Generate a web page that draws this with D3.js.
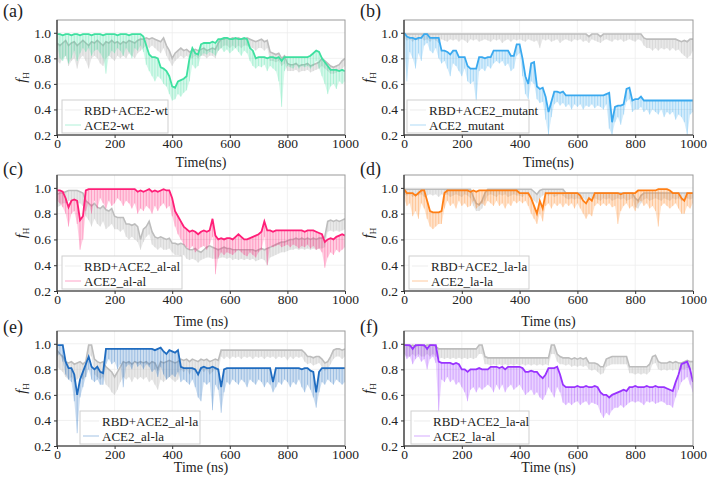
<!DOCTYPE html>
<html><head><meta charset="utf-8">
<script src="https://cdn.jsdelivr.net/npm/d3@7"></script>
<style>
html,body{margin:0;padding:0;background:#fff;}
svg{display:block;}
svg text{font-family:"Liberation Serif","Times New Roman",serif !important;}
</style></head>
<body>
<svg id="chart" width="709" height="486"></svg>
<script>
// time axis (ns), sampled every 10 ns
const timeNs = d3.range(0, 1001, 10);
const xTicks = [0, 200, 400, 600, 800, 1000];
const yTicks = [0.2, 0.4, 0.6, 0.8, 1.0];

// ---- (a) ----
const a_gray = [0.92,0.90,0.92,0.94,0.90,0.92,0.93,0.90,0.92,0.94,0.92,0.90,0.93,0.92,0.94,0.92,0.90,0.93,0.92,0.94,0.92,0.93,0.91,0.93,0.92,0.94,0.93,0.92,0.94,0.95,0.95,0.96,0.95,0.96,0.95,0.94,0.93,0.96,0.90,0.86,0.80,0.84,0.86,0.88,0.86,0.87,0.85,0.86,0.87,0.86,0.87,0.88,0.86,0.87,0.88,0.87,0.92,0.95,0.95,0.96,0.95,0.96,0.95,0.96,0.95,0.95,0.96,0.95,0.94,0.93,0.94,0.95,0.93,0.94,0.85,0.84,0.83,0.84,0.80,0.82,0.76,0.75,0.75,0.76,0.74,0.75,0.75,0.76,0.74,0.75,0.76,0.77,0.80,0.78,0.76,0.74,0.73,0.74,0.75,0.78,0.80];
const a_grayLow = [0.78,0.76,0.80,0.82,0.74,0.78,0.80,0.72,0.80,0.82,0.78,0.72,0.80,0.82,0.80,0.76,0.74,0.80,0.82,0.80,0.78,0.82,0.80,0.82,0.80,0.84,0.82,0.80,0.84,0.86,0.88,0.90,0.88,0.90,0.88,0.86,0.84,0.88,0.82,0.78,0.74,0.78,0.80,0.82,0.80,0.82,0.80,0.80,0.82,0.80,0.82,0.82,0.80,0.82,0.82,0.80,0.86,0.88,0.90,0.90,0.88,0.90,0.88,0.90,0.88,0.90,0.90,0.88,0.88,0.86,0.88,0.88,0.86,0.88,0.78,0.78,0.77,0.78,0.74,0.76,0.70,0.70,0.70,0.71,0.69,0.70,0.70,0.71,0.69,0.70,0.71,0.72,0.74,0.72,0.70,0.68,0.68,0.69,0.70,0.72,0.74];
const a_cmplx = [0.99,0.99,0.98,0.99,0.99,0.98,0.99,0.99,0.98,0.99,0.99,0.99,0.98,0.99,0.99,0.99,0.98,0.99,0.99,0.99,0.99,0.98,0.99,0.99,0.99,0.98,0.99,0.99,0.99,0.99,0.97,0.90,0.83,0.81,0.81,0.80,0.73,0.72,0.70,0.66,0.58,0.57,0.62,0.63,0.64,0.66,0.80,0.88,0.84,0.83,0.91,0.92,0.92,0.92,0.93,0.92,0.95,0.95,0.96,0.96,0.95,0.95,0.96,0.95,0.95,0.96,0.95,0.88,0.86,0.80,0.81,0.81,0.81,0.80,0.81,0.81,0.80,0.81,0.78,0.81,0.81,0.81,0.81,0.81,0.81,0.81,0.81,0.81,0.82,0.84,0.86,0.85,0.80,0.77,0.74,0.71,0.71,0.71,0.70,0.71,0.70];
const a_cmplxLow = [0.90,0.80,0.78,0.82,0.76,0.80,0.86,0.78,0.84,0.88,0.85,0.88,0.82,0.86,0.87,0.84,0.80,0.68,0.82,0.86,0.84,0.88,0.86,0.82,0.88,0.85,0.80,0.88,0.86,0.90,0.85,0.75,0.70,0.66,0.62,0.66,0.64,0.60,0.58,0.52,0.47,0.48,0.52,0.50,0.53,0.55,0.62,0.75,0.72,0.74,0.82,0.84,0.83,0.85,0.84,0.82,0.86,0.88,0.85,0.87,0.84,0.86,0.88,0.85,0.82,0.86,0.84,0.78,0.74,0.72,0.74,0.73,0.75,0.70,0.74,0.72,0.70,0.62,0.42,0.70,0.74,0.73,0.72,0.75,0.72,0.74,0.73,0.74,0.72,0.74,0.78,0.72,0.66,0.60,0.52,0.58,0.60,0.56,0.62,0.60,0.62];

// ---- (b) ----
const b_gray = [0.99,0.99,0.99,0.99,0.99,0.99,0.99,0.99,0.99,0.99,0.99,0.99,0.99,0.99,0.99,0.99,0.99,0.99,0.99,0.99,0.99,0.99,0.99,0.99,0.99,0.99,0.99,0.99,0.99,0.99,0.99,0.99,0.99,0.99,0.99,0.99,0.99,0.99,0.99,0.99,0.99,0.99,0.99,0.99,0.99,0.99,0.99,0.99,0.99,0.99,0.99,0.99,0.99,0.99,0.99,0.99,0.99,0.99,0.99,0.99,0.99,0.99,0.99,0.99,0.97,0.99,0.99,0.99,0.97,0.99,0.99,0.99,0.99,0.99,0.99,0.99,0.99,0.99,0.99,0.99,0.99,0.99,0.99,0.96,0.95,0.95,0.95,0.95,0.95,0.95,0.95,0.95,0.95,0.95,0.95,0.94,0.93,0.94,0.93,0.95,0.95];
const b_grayLow = [0.96,0.94,0.95,0.93,0.95,0.94,0.96,0.94,0.95,0.93,0.95,0.94,0.92,0.95,0.94,0.93,0.95,0.94,0.95,0.93,0.95,0.94,0.92,0.95,0.94,0.95,0.93,0.94,0.95,0.94,0.93,0.95,0.94,0.95,0.92,0.94,0.95,0.93,0.95,0.94,0.95,0.94,0.93,0.95,0.94,0.93,0.94,0.88,0.95,0.94,0.95,0.93,0.94,0.95,0.92,0.94,0.95,0.94,0.93,0.95,0.94,0.95,0.93,0.94,0.92,0.95,0.94,0.93,0.92,0.94,0.95,0.94,0.93,0.95,0.94,0.95,0.93,0.94,0.95,0.94,0.93,0.95,0.94,0.90,0.88,0.88,0.86,0.88,0.86,0.88,0.87,0.88,0.86,0.88,0.86,0.87,0.84,0.82,0.80,0.82,0.86];
const b_cmplx = [1.00,0.97,0.96,0.96,0.95,0.96,0.96,0.99,0.99,0.96,0.96,0.96,0.96,0.86,0.86,0.85,0.83,0.86,0.86,0.81,0.81,0.81,0.74,0.72,0.72,0.72,0.81,0.81,0.80,0.81,0.81,0.86,0.86,0.86,0.86,0.86,0.86,0.82,0.82,0.91,0.91,0.80,0.66,0.60,0.76,0.77,0.58,0.56,0.57,0.50,0.38,0.46,0.54,0.54,0.53,0.54,0.51,0.51,0.51,0.51,0.51,0.51,0.51,0.51,0.51,0.51,0.51,0.51,0.51,0.51,0.52,0.53,0.30,0.42,0.43,0.43,0.44,0.56,0.57,0.47,0.48,0.48,0.50,0.47,0.47,0.47,0.47,0.47,0.47,0.47,0.47,0.47,0.47,0.47,0.47,0.47,0.47,0.47,0.47,0.47,0.47];
const b_cmplxLow = [0.90,0.62,0.85,0.80,0.72,0.84,0.78,0.90,0.92,0.86,0.84,0.88,0.80,0.76,0.78,0.72,0.66,0.76,0.74,0.70,0.66,0.72,0.62,0.60,0.62,0.45,0.70,0.72,0.70,0.74,0.72,0.76,0.78,0.76,0.78,0.74,0.76,0.70,0.72,0.82,0.84,0.66,0.52,0.48,0.62,0.60,0.48,0.45,0.46,0.32,0.20,0.34,0.44,0.46,0.43,0.45,0.42,0.44,0.40,0.44,0.42,0.44,0.40,0.43,0.42,0.44,0.41,0.43,0.42,0.40,0.44,0.25,0.20,0.30,0.34,0.28,0.36,0.46,0.48,0.38,0.40,0.40,0.42,0.38,0.40,0.36,0.40,0.38,0.36,0.40,0.34,0.38,0.36,0.38,0.32,0.36,0.34,0.30,0.20,0.36,0.38];

// ---- (c) ----
const c_gray = [0.95,0.96,0.96,0.97,0.98,0.98,0.98,0.98,0.97,0.96,0.90,0.88,0.86,0.88,0.85,0.84,0.86,0.83,0.82,0.84,0.78,0.77,0.77,0.77,0.72,0.72,0.71,0.72,0.70,0.60,0.68,0.70,0.74,0.66,0.62,0.61,0.62,0.61,0.60,0.61,0.57,0.57,0.56,0.57,0.56,0.53,0.52,0.52,0.53,0.51,0.50,0.52,0.54,0.55,0.54,0.53,0.52,0.53,0.54,0.53,0.53,0.52,0.52,0.52,0.52,0.52,0.52,0.52,0.52,0.51,0.52,0.53,0.52,0.53,0.54,0.55,0.56,0.57,0.58,0.58,0.59,0.60,0.60,0.61,0.60,0.61,0.60,0.61,0.60,0.61,0.60,0.61,0.61,0.62,0.74,0.75,0.74,0.75,0.74,0.75,0.76];
const c_grayLow = [0.85,0.86,0.88,0.88,0.90,0.90,0.90,0.88,0.88,0.86,0.78,0.75,0.70,0.76,0.72,0.70,0.74,0.68,0.70,0.72,0.68,0.68,0.66,0.68,0.62,0.60,0.62,0.60,0.58,0.52,0.58,0.62,0.64,0.56,0.54,0.52,0.54,0.52,0.52,0.53,0.50,0.48,0.48,0.47,0.48,0.45,0.44,0.45,0.44,0.42,0.44,0.45,0.46,0.46,0.45,0.45,0.45,0.46,0.46,0.45,0.46,0.44,0.45,0.44,0.45,0.44,0.45,0.44,0.45,0.43,0.44,0.45,0.44,0.40,0.46,0.47,0.48,0.49,0.50,0.50,0.51,0.52,0.52,0.53,0.52,0.53,0.52,0.53,0.52,0.53,0.52,0.53,0.53,0.54,0.66,0.67,0.66,0.67,0.66,0.67,0.68];
const c_cmplx = [0.98,0.98,0.97,0.92,0.85,0.90,0.91,0.90,0.75,0.78,0.98,0.99,0.99,0.99,0.99,0.99,0.99,0.99,0.99,0.99,0.99,0.99,0.99,0.99,0.99,0.99,0.99,0.99,0.97,0.98,0.97,0.98,0.99,0.97,0.98,0.97,0.98,0.99,0.98,0.98,0.92,0.82,0.78,0.74,0.70,0.68,0.66,0.67,0.66,0.64,0.66,0.67,0.66,0.67,0.76,0.63,0.60,0.61,0.60,0.61,0.61,0.60,0.62,0.64,0.62,0.60,0.60,0.61,0.62,0.63,0.64,0.66,0.74,0.67,0.67,0.66,0.67,0.67,0.67,0.67,0.67,0.67,0.67,0.67,0.67,0.67,0.66,0.67,0.67,0.67,0.66,0.65,0.64,0.58,0.60,0.61,0.60,0.62,0.63,0.64,0.63];
const c_cmplxLow = [0.90,0.88,0.85,0.80,0.70,0.80,0.82,0.72,0.52,0.60,0.82,0.88,0.80,0.90,0.84,0.92,0.88,0.84,0.90,0.86,0.88,0.92,0.90,0.86,0.90,0.88,0.84,0.88,0.80,0.84,0.82,0.86,0.84,0.80,0.86,0.82,0.86,0.88,0.84,0.86,0.78,0.70,0.64,0.60,0.56,0.54,0.52,0.55,0.50,0.52,0.54,0.55,0.52,0.56,0.62,0.33,0.46,0.50,0.48,0.50,0.49,0.48,0.50,0.52,0.50,0.48,0.47,0.50,0.48,0.46,0.50,0.52,0.62,0.40,0.55,0.54,0.55,0.56,0.54,0.55,0.56,0.54,0.56,0.55,0.53,0.55,0.54,0.56,0.53,0.55,0.52,0.53,0.50,0.38,0.46,0.50,0.48,0.52,0.50,0.52,0.54];

// ---- (d) ----
const d_gray = [0.99,0.99,0.99,0.99,0.99,0.99,0.99,0.99,0.99,0.99,0.99,0.99,0.99,0.99,0.99,0.99,0.99,0.99,0.99,0.99,0.99,0.99,0.99,0.99,0.93,0.88,0.87,0.90,0.96,0.99,0.99,0.99,0.99,0.99,0.99,0.99,0.99,0.99,0.99,0.99,0.99,0.99,0.99,0.99,0.99,0.97,0.95,0.98,0.99,0.99,0.99,0.99,0.99,0.99,0.99,0.99,0.96,0.96,0.96,0.96,0.96,0.96,0.96,0.96,0.96,0.96,0.96,0.96,0.96,0.96,0.96,0.96,0.96,0.96,0.96,0.96,0.96,0.96,0.96,0.96,0.92,0.90,0.94,0.96,0.96,0.96,0.96,0.96,0.96,0.96,0.96,0.96,0.96,0.96,0.96,0.96,0.96,0.96,0.96,0.96,0.96];
const d_grayLow = [0.95,0.94,0.95,0.93,0.95,0.94,0.95,0.93,0.94,0.95,0.94,0.95,0.93,0.95,0.94,0.95,0.93,0.94,0.95,0.94,0.93,0.95,0.94,0.92,0.86,0.82,0.82,0.84,0.90,0.94,0.95,0.94,0.93,0.95,0.94,0.95,0.93,0.94,0.95,0.94,0.94,0.93,0.95,0.94,0.92,0.90,0.88,0.92,0.94,0.95,0.94,0.95,0.93,0.94,0.95,0.94,0.92,0.91,0.92,0.91,0.92,0.91,0.92,0.90,0.92,0.91,0.92,0.91,0.90,0.92,0.91,0.92,0.90,0.91,0.92,0.91,0.92,0.90,0.91,0.92,0.85,0.84,0.88,0.91,0.92,0.90,0.91,0.92,0.91,0.90,0.92,0.91,0.90,0.92,0.91,0.92,0.90,0.91,0.92,0.91,0.92];
const d_cmplx = [0.99,0.96,0.96,0.96,0.94,0.96,0.98,0.98,0.90,0.82,0.81,0.81,0.81,0.82,0.96,0.98,0.98,0.98,0.98,0.98,0.98,0.98,0.98,0.97,0.98,0.97,0.98,0.98,0.98,0.98,0.98,0.98,0.98,0.98,0.98,0.98,0.98,0.98,0.98,0.98,0.96,0.96,0.96,0.96,0.92,0.86,0.80,0.90,0.84,0.96,0.96,0.96,0.96,0.96,0.96,0.96,0.96,0.96,0.96,0.96,0.96,0.94,0.90,0.88,0.92,0.90,0.96,0.96,0.96,0.96,0.96,0.96,0.96,0.96,0.96,0.95,0.96,0.96,0.96,0.96,0.96,0.98,0.98,0.98,0.98,0.98,0.98,0.98,0.99,0.99,0.99,0.99,0.98,0.96,0.96,0.96,0.92,0.90,0.96,0.96,0.96];
const d_cmplxLow = [0.92,0.86,0.88,0.78,0.82,0.76,0.88,0.84,0.76,0.70,0.68,0.70,0.72,0.72,0.84,0.90,0.86,0.88,0.84,0.90,0.86,0.88,0.85,0.86,0.90,0.84,0.86,0.88,0.86,0.90,0.88,0.86,0.90,0.86,0.88,0.84,0.88,0.86,0.90,0.88,0.90,0.88,0.90,0.86,0.80,0.76,0.72,0.80,0.74,0.86,0.88,0.84,0.88,0.86,0.88,0.85,0.88,0.86,0.88,0.84,0.88,0.84,0.80,0.76,0.80,0.78,0.86,0.88,0.86,0.88,0.86,0.88,0.85,0.86,0.72,0.82,0.86,0.88,0.84,0.86,0.82,0.88,0.90,0.86,0.88,0.84,0.86,0.82,0.70,0.86,0.88,0.86,0.84,0.86,0.88,0.84,0.80,0.80,0.86,0.84,0.88];

// ---- (e) ----
const e_gray = [0.95,0.92,0.90,0.86,0.85,0.86,0.84,0.85,0.86,0.84,0.86,0.99,0.99,0.88,0.86,0.85,0.86,0.82,0.80,0.78,0.74,0.78,0.82,0.86,0.85,0.86,0.84,0.86,0.85,0.86,0.85,0.86,0.84,0.86,0.85,0.80,0.86,0.85,0.86,0.87,0.86,0.85,0.86,0.88,0.87,0.88,0.86,0.88,0.87,0.86,0.88,0.87,0.88,0.86,0.87,0.88,0.87,0.95,0.95,0.95,0.95,0.95,0.95,0.95,0.95,0.95,0.95,0.95,0.95,0.95,0.95,0.95,0.95,0.95,0.95,0.95,0.95,0.95,0.95,0.95,0.95,0.95,0.95,0.95,0.95,0.95,0.93,0.90,0.90,0.89,0.90,0.90,0.88,0.85,0.86,0.90,0.95,0.96,0.96,0.95,0.96];
const e_grayLow = [0.82,0.80,0.78,0.74,0.72,0.74,0.70,0.72,0.74,0.72,0.74,0.92,0.90,0.76,0.74,0.72,0.74,0.68,0.66,0.62,0.60,0.64,0.70,0.74,0.72,0.74,0.70,0.74,0.72,0.74,0.72,0.74,0.70,0.72,0.68,0.64,0.72,0.70,0.72,0.74,0.72,0.70,0.72,0.80,0.78,0.80,0.76,0.80,0.78,0.76,0.80,0.78,0.80,0.76,0.78,0.80,0.78,0.90,0.88,0.90,0.88,0.90,0.89,0.90,0.88,0.90,0.89,0.90,0.88,0.90,0.89,0.90,0.88,0.90,0.89,0.90,0.88,0.90,0.89,0.90,0.87,0.90,0.88,0.90,0.89,0.90,0.86,0.84,0.85,0.83,0.84,0.85,0.82,0.79,0.80,0.84,0.88,0.90,0.90,0.88,0.90];
const e_cmplx = [0.99,0.99,0.99,0.86,0.81,0.81,0.76,0.60,0.72,0.78,0.84,0.90,0.82,0.80,0.82,0.78,0.77,0.96,0.96,0.96,0.96,0.96,0.96,0.96,0.96,0.96,0.96,0.96,0.96,0.96,0.96,0.96,0.96,0.96,0.95,0.96,0.97,0.94,0.92,0.95,0.94,0.93,0.95,0.82,0.81,0.81,0.81,0.81,0.80,0.76,0.81,0.82,0.81,0.81,0.82,0.81,0.80,0.66,0.80,0.81,0.81,0.81,0.81,0.81,0.81,0.81,0.81,0.81,0.81,0.81,0.81,0.81,0.81,0.81,0.81,0.70,0.81,0.81,0.81,0.81,0.81,0.81,0.81,0.81,0.81,0.80,0.81,0.81,0.79,0.78,0.62,0.78,0.81,0.81,0.81,0.81,0.81,0.81,0.81,0.81,0.81];
const e_cmplxLow = [0.90,0.92,0.86,0.76,0.72,0.70,0.55,0.30,0.58,0.66,0.74,0.80,0.72,0.70,0.72,0.68,0.68,0.84,0.88,0.84,0.86,0.80,0.84,0.66,0.82,0.84,0.80,0.86,0.82,0.84,0.80,0.84,0.82,0.78,0.80,0.74,0.82,0.76,0.72,0.74,0.76,0.74,0.78,0.70,0.72,0.70,0.68,0.72,0.66,0.58,0.55,0.70,0.68,0.70,0.48,0.68,0.64,0.46,0.62,0.70,0.68,0.72,0.70,0.68,0.72,0.70,0.66,0.72,0.70,0.68,0.72,0.70,0.66,0.70,0.68,0.62,0.66,0.70,0.68,0.72,0.70,0.66,0.70,0.68,0.72,0.66,0.62,0.68,0.64,0.58,0.50,0.62,0.70,0.68,0.72,0.70,0.68,0.72,0.70,0.68,0.70];

// ---- (f) ----
const f_gray = [0.99,0.99,0.98,0.99,0.98,0.99,0.99,0.98,0.99,0.99,0.99,0.98,0.96,0.96,0.96,0.96,0.96,0.96,0.96,0.96,0.96,0.96,0.96,0.96,0.96,0.96,0.99,0.99,0.90,0.89,0.89,0.89,0.89,0.89,0.89,0.89,0.89,0.89,0.89,0.89,0.89,0.89,0.89,0.89,0.89,0.89,0.89,0.89,0.89,0.89,0.89,0.99,0.99,0.92,0.90,0.89,0.89,0.89,0.88,0.89,0.88,0.89,0.88,0.89,0.85,0.85,0.85,0.84,0.82,0.82,0.88,0.89,0.90,0.90,0.90,0.90,0.90,0.90,0.82,0.82,0.82,0.82,0.82,0.82,0.82,0.84,0.90,0.91,0.86,0.85,0.85,0.85,0.86,0.85,0.86,0.85,0.85,0.86,0.87,0.86,0.86];
const f_grayLow = [0.92,0.90,0.90,0.92,0.90,0.92,0.90,0.90,0.92,0.90,0.92,0.90,0.88,0.89,0.88,0.89,0.88,0.89,0.88,0.89,0.88,0.89,0.88,0.89,0.88,0.89,0.92,0.92,0.84,0.84,0.83,0.84,0.83,0.84,0.83,0.84,0.83,0.84,0.83,0.84,0.83,0.84,0.83,0.84,0.83,0.84,0.83,0.84,0.83,0.84,0.83,0.92,0.92,0.86,0.84,0.84,0.83,0.84,0.82,0.83,0.82,0.83,0.82,0.83,0.80,0.79,0.80,0.78,0.76,0.77,0.82,0.83,0.84,0.84,0.84,0.84,0.84,0.84,0.77,0.77,0.76,0.77,0.76,0.77,0.76,0.78,0.84,0.85,0.80,0.79,0.80,0.79,0.80,0.79,0.80,0.79,0.80,0.80,0.81,0.80,0.80];
const f_cmplx = [0.99,0.99,0.99,0.96,0.99,0.99,0.99,0.99,0.96,0.99,0.99,0.99,0.86,0.85,0.85,0.85,0.85,0.84,0.85,0.84,0.80,0.80,0.78,0.80,0.80,0.80,0.81,0.80,0.80,0.80,0.82,0.82,0.82,0.81,0.82,0.80,0.82,0.82,0.82,0.82,0.82,0.81,0.78,0.78,0.79,0.78,0.78,0.75,0.73,0.76,0.81,0.81,0.81,0.82,0.76,0.68,0.66,0.66,0.66,0.66,0.67,0.66,0.66,0.67,0.66,0.66,0.67,0.66,0.62,0.60,0.60,0.58,0.60,0.61,0.62,0.63,0.64,0.63,0.66,0.66,0.67,0.66,0.66,0.66,0.67,0.66,0.66,0.67,0.66,0.66,0.66,0.65,0.64,0.63,0.70,0.76,0.84,0.85,0.86,0.80,0.70];
const f_cmplxLow = [0.92,0.88,0.90,0.84,0.88,0.90,0.86,0.88,0.80,0.88,0.90,0.85,0.46,0.72,0.70,0.74,0.70,0.72,0.68,0.70,0.66,0.62,0.55,0.64,0.66,0.62,0.66,0.64,0.66,0.68,0.66,0.62,0.68,0.64,0.68,0.62,0.66,0.68,0.64,0.66,0.68,0.64,0.60,0.62,0.64,0.60,0.62,0.58,0.56,0.60,0.66,0.62,0.58,0.66,0.62,0.54,0.52,0.54,0.52,0.54,0.55,0.52,0.54,0.55,0.52,0.54,0.53,0.52,0.46,0.42,0.46,0.44,0.48,0.50,0.50,0.52,0.50,0.52,0.54,0.55,0.54,0.55,0.54,0.52,0.55,0.54,0.55,0.53,0.54,0.55,0.54,0.52,0.52,0.50,0.58,0.64,0.70,0.72,0.74,0.68,0.62];

const panels = [
  {tag:"(a)", gray:a_gray, grayLow:a_grayLow, fg:a_cmplx, fgLow:a_cmplxLow, color:"#3fe0a0", l1:"RBD+ACE2-wt", l2:"ACE2-wt", xt:"Time(ns)", col:0, row:0, lx:5, lw:106},
  {tag:"(b)", gray:b_gray, grayLow:b_grayLow, fg:b_cmplx, fgLow:b_cmplxLow, color:"#3aa9ef", l1:"RBD+ACE2_mutant", l2:"ACE2_mutant", xt:"Time(ns)", col:1, row:0, lx:3, lw:122},
  {tag:"(c)", gray:c_gray, grayLow:c_grayLow, fg:c_cmplx, fgLow:c_cmplxLow, color:"#ff1f78", l1:"RBD+ACE2_al-al", l2:"ACE2_al-al", xt:"Time (ns)", col:0, row:1, lx:5, lw:120},
  {tag:"(d)", gray:d_gray, grayLow:d_grayLow, fg:d_cmplx, fgLow:d_cmplxLow, color:"#ff7f15", l1:"RBD+ACE2_la-la", l2:"ACE2_la-la", xt:"Time (ns)", col:1, row:1, lx:5, lw:120},
  {tag:"(e)", gray:e_gray, grayLow:e_grayLow, fg:e_cmplx, fgLow:e_cmplxLow, color:"#1f6cc0", l1:"RBD+ACE2_al-la", l2:"ACE2_al-la", xt:"Time (ns)", col:0, row:2, lx:23, lw:120},
  {tag:"(f)", gray:f_gray, grayLow:f_grayLow, fg:f_cmplx, fgLow:f_cmplxLow, color:"#9933ff", l1:"RBD+ACE2_la-al", l2:"ACE2_la-al", xt:"Time (ns)", col:1, row:2, lx:7, lw:118}
];

const cols = [{x0:57, x1:345, tagX:3}, {x0:404, x1:693, tagX:360}];
const rows = [{y0:20, y1:135, tt:32, tagY:17}, {y0:175, y1:291, tt:35, tagY:175}, {y0:331, y1:446, tt:26, tagY:333}];

const svg = d3.select("#chart");

panels.forEach((p, i) => {
  const c = cols[p.col], r = rows[p.row];
  const x = d3.scaleLinear().domain([0, 1000]).range([c.x0, c.x1]);
  const y = d3.scaleLinear().domain([0.2, 1.1]).range([r.y1, r.y0]);
  const g = svg.append("g");

  g.append("clipPath").attr("id", "clip" + i).append("rect")
    .attr("x", c.x0).attr("y", r.y0).attr("width", c.x1 - c.x0).attr("height", r.y1 - r.y0);

  // grid
  g.append("g").selectAll("line").data(xTicks.slice(1, -1)).join("line")
    .attr("x1", d => x(d)).attr("x2", d => x(d)).attr("y1", r.y0).attr("y2", r.y1)
    .attr("stroke", "#eeeeee").attr("stroke-width", 0.8);
  g.append("g").selectAll("line").data(yTicks.slice(1)).join("line")
    .attr("y1", d => y(d)).attr("y2", d => y(d)).attr("x1", c.x0).attr("x2", c.x1)
    .attr("stroke", "#eeeeee").attr("stroke-width", 0.8);

  const plot = g.append("g").attr("clip-path", `url(#clip${i})`);
  const area = (hi, lo) => d3.area().x((d, k) => x(timeNs[k])).y0((d, k) => y(lo[k])).y1((d, k) => y(hi[k]))(hi);
  const line = (hi) => d3.line().x((d, k) => x(timeNs[k])).y(d => y(d))(hi);
  const spikes = (sel, hi, lo, col, op, w) => sel.append("g").selectAll("line").data(hi).join("line")
    .attr("x1", (d, k) => x(timeNs[k])).attr("x2", (d, k) => x(timeNs[k]))
    .attr("y1", d => y(d)).attr("y2", (d, k) => y(lo[k]))
    .attr("stroke", col).attr("stroke-width", w).attr("opacity", op);

  // unbound receptor (gray)
  plot.append("path").attr("d", area(p.gray, p.grayLow)).attr("fill", "#c8c8c8").attr("opacity", 0.42);
  spikes(plot, p.gray, p.grayLow, "#c0c0c0", 0.45, 0.8);
  plot.append("path").attr("d", line(p.gray)).attr("fill", "none").attr("stroke", "#bdbdbd").attr("stroke-width", 1.6);
  // complex (colour)
  plot.append("path").attr("d", area(p.fg, p.fgLow)).attr("fill", p.color).attr("opacity", 0.22);
  spikes(plot, p.fg, p.fgLow, p.color, 0.35, 0.8);
  plot.append("path").attr("d", line(p.fg)).attr("fill", "none").attr("stroke", p.color).attr("stroke-width", 1.8);

  // frame
  g.append("rect").attr("x", c.x0).attr("y", r.y0).attr("width", c.x1 - c.x0).attr("height", r.y1 - r.y0)
    .attr("fill", "none").attr("stroke", "#9a9a9a").attr("stroke-width", 1);

  // axes
  const xa = g.append("g").attr("transform", `translate(0,${r.y1})`)
    .call(d3.axisBottom(x).tickValues(xTicks).tickSize(3).tickSizeOuter(0).tickFormat(d3.format("d")));
  const ya = g.append("g").attr("transform", `translate(${c.x0},0)`)
    .call(d3.axisLeft(y).tickValues(yTicks).tickSize(3).tickSizeOuter(0).tickFormat(d3.format(".1f")));
  [xa, ya].forEach(ax => {
    ax.select(".domain").attr("stroke", "#333").attr("stroke-width", 1.2);
    ax.selectAll(".tick line").attr("stroke", "#333");
    ax.selectAll("text").attr("font-size", 13.5).attr("fill", "#222");
  });
  xa.select(".domain").attr("d", `M${c.x0},0H${c.x1}`);
  ya.select(".domain").attr("d", `M0,${r.y0}V${r.y1}`);
  xa.selectAll("text").attr("dy", "0.55em");

  // titles
  g.append("text").attr("x", (c.x0 + c.x1) / 2).attr("y", r.y1 + r.tt)
    .attr("text-anchor", "middle").attr("font-size", 14).attr("fill", "#222").text(p.xt);
  const fy = g.append("text").attr("transform", `translate(${c.x0 - 31},${(r.y0 + r.y1) / 2}) rotate(-90)`)
    .attr("text-anchor", "middle").attr("font-size", 14.5).attr("fill", "#222");
  fy.append("tspan").attr("font-style", "italic").text("f");
  fy.append("tspan").attr("font-size", 9).attr("dy", 3).text("H");
  g.append("text").attr("x", c.tagX).attr("y", r.tagY)
    .attr("font-size", 18).attr("fill", "#222").text(p.tag);

  // legend
  const lx = c.x0 + p.lx, ly = r.y1 - 35;
  const lg = g.append("g");
  lg.append("rect").attr("x", lx).attr("y", ly).attr("width", p.lw).attr("height", 33)
    .attr("fill", "#fff").attr("fill-opacity", 0.85).attr("stroke", "#cfcfcf").attr("stroke-width", 1);
  [[p.l1, "#d8d8d8"], [p.l2, p.color]].forEach((e, k) => {
    const yy = ly + 10 + k * 15;
    lg.append("line").attr("x1", lx + 3).attr("x2", lx + 19).attr("y1", yy).attr("y2", yy)
      .attr("stroke", e[1]).attr("stroke-width", 1).attr("opacity", 0.4);
    lg.append("text").attr("x", lx + 22).attr("y", yy + 4.5).attr("font-size", 13).attr("fill", "#222").text(e[0]);
  });
});
</script>
</body></html>
